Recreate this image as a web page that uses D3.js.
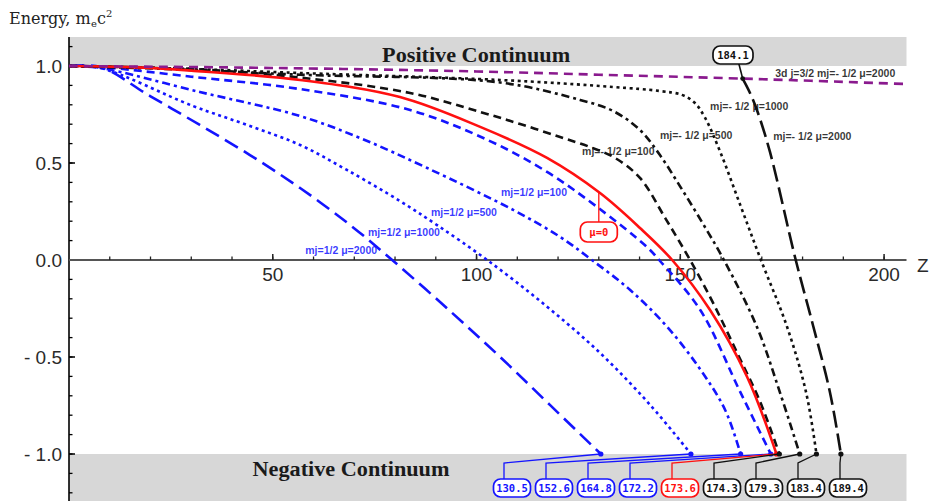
<!DOCTYPE html>
<html>
<head>
<meta charset="utf-8">
<script src="https://cdn.jsdelivr.net/npm/d3@7"></script>
<style>
  body { margin: 0; background: #fff; }
  svg { display: block; }
</style>
</head>
<body>
<svg id="chart" width="932" height="501"></svg>
<script>
// Bound-state energy E (units of m_e c^2) versus nuclear charge Z.
// Each series is a list of [Z, E] pairs; the last point of the diving
// levels (E = -1) is taken from criticalZ below.

const majorZTicks = [50, 100, 150, 200];
const majorETicks = [1, 0.5, 0, -0.5, -1];
const majorETickLabels = ["1.0", "0.5", "0.0", "- 0.5", "- 1.0"];

// Z where each level reaches the negative continuum (same order as divingSeries)
const criticalZ = [130.5, 152.6, 164.8, 172.2, 173.6, 174.3, 179.3, 183.4, 189.4];
const criticalLabels = ["130.5", "152.6", "164.8", "172.2", "173.6", "174.3", "179.3", "183.4", "189.4"];

const blueMu2000 = [[0,1],[7.6,0.995],[19.9,0.845],[32.1,0.696],[44.4,0.541],[56.7,0.371],[69.0,0.18],[79.3,0],[93.5,-0.263],[105.8,-0.5],[118.0,-0.747]];
const blueMu1000 = [[0,1],[7.6,0.99],[30.4,0.794],[43.7,0.696],[56.7,0.593],[68.2,0.464],[81.2,0.304],[90.3,0.18],[102.6,0],[116.8,-0.232],[130.3,-0.479],[142.6,-0.747]];
const blueMu500  = [[0,1],[7.6,0.99],[32.1,0.866],[56.7,0.742],[71.4,0.629],[87.9,0.474],[109.0,0.258],[120.5,0.119],[128.3,0],[137.7,-0.155],[146.8,-0.345],[155.0,-0.567],[161.0,-0.773]];
const blueMu100  = [[0,1],[7.6,0.995],[30,0.945],[56.7,0.881],[83.7,0.773],[103.3,0.613],[117.3,0.454],[129.6,0.273],[141.8,0.067],[144.8,0],[154.9,-0.258],[164.7,-0.68]];
const redMu0     = [[0,1],[15,0.994],[30,0.976],[56.7,0.928],[81.2,0.84],[100.9,0.686],[117.3,0.526],[130.3,0.345],[140.1,0.165],[148.0,0],[157.3,-0.258],[166.4,-0.603]];
const blackMu100 = [[0,1],[30,0.985],[56.7,0.94],[83.7,0.861],[100.9,0.763],[110.7,0.701],[120.5,0.634],[127.9,0.582],[134.0,0.526],[140.1,0.423],[146.3,0.216],[152.4,0],[158.3,-0.232],[164.2,-0.49],[169.6,-0.732]];
const blackMu500 = [[0,1],[30,0.98],[56.7,0.955],[105.8,0.915],[125.4,0.825],[133.5,0.768],[140.1,0.67],[145.0,0.541],[149.9,0.381],[155.3,0.196],[160.7,0],[168.8,-0.345],[174.5,-0.686]];
const blackMu1000 = [[0,1],[30,0.985],[56.7,0.964],[105.8,0.928],[133.5,0.892],[145.0,0.871],[150.4,0.851],[153.6,0.809],[156.1,0.732],[159.8,0.557],[164.7,0.284],[169.6,0.01],[176.2,-0.345],[180.9,-0.686]];
// this level is traced from where it leaves the 3d level
const blackMu2000 = [[165.3,0.935],[167.1,0.861],[168.8,0.773],[172.0,0.557],[178.2,0.01],[182.6,-0.34],[186.7,-0.68]];
const purple3d   = [[0,1],[50,0.99],[100,0.972],[130,0.955],[165.3,0.935],[205.5,0.907]];

// ---- layout -------------------------------------------------------------
const svg = d3.select("#chart");
const W = 932, H = 501;
const x = d3.scaleLinear().domain([0, 205.5]).range([69, 906.5]);
const y = d3.scaleLinear().domain([-1, 1]).range([454, 66]);
const eTop = y.invert(37), eBottom = y.invert(H);

const BLUE = "#1414ff", RED = "#ff1010", BLACK = "#111", PURPLE = "#8a1a8e", GREY = "#d7d7d7";

// continuum bands
svg.append("rect").attr("x", x(0)).attr("y", y(eTop))
  .attr("width", x(205.5) - x(0)).attr("height", y(1) - y(eTop)).attr("fill", GREY);
svg.append("rect").attr("x", x(0)).attr("y", y(-1))
  .attr("width", x(205.5) - x(0)).attr("height", y(eBottom) - y(-1)).attr("fill", GREY);

svg.append("text").attr("x", x(99.9)).attr("y", y(1.057)).attr("dy", "0.35em")
  .attr("text-anchor", "middle").attr("font-family", "'Liberation Serif', serif")
  .attr("font-weight", "bold").attr("font-size", 20).attr("fill", "#1a1a1a")
  .attr("textLength", 188).attr("lengthAdjust", "spacingAndGlyphs")
  .text("Positive Continuum");
svg.append("text").attr("x", x(69.2)).attr("y", y(-1.077)).attr("dy", "0.35em")
  .attr("text-anchor", "middle").attr("font-family", "'Liberation Serif', serif")
  .attr("font-weight", "bold").attr("font-size", 20).attr("fill", "#1a1a1a")
  .attr("textLength", 197).attr("lengthAdjust", "spacingAndGlyphs")
  .text("Negative Continuum");

// ---- axes ---------------------------------------------------------------
const axisG = svg.append("g");
// E axis
axisG.append("line").attr("x1", x(0)).attr("x2", x(0)).attr("y1", y(eTop)).attr("y2", H)
  .attr("stroke", "#000").attr("stroke-width", 1.6);
const minorE = d3.range(-12, 12).map(d => d / 10).filter(v => v >= eBottom && v <= eTop);
axisG.selectAll(".eMinor").data(minorE).join("line")
  .attr("x1", x(0)).attr("x2", x(0) + 3.5).attr("y1", d => y(d)).attr("y2", d => y(d))
  .attr("stroke", "#000").attr("stroke-width", 1.3);
axisG.selectAll(".eMajor").data(majorETicks).join("line")
  .attr("x1", x(0)).attr("x2", x(0) + 6).attr("y1", d => y(d)).attr("y2", d => y(d))
  .attr("stroke", "#000").attr("stroke-width", 1.5);
axisG.selectAll(".eLab").data(majorETicks).join("text")
  .attr("x", x(0) - 7).attr("y", d => y(d)).attr("dy", "0.36em").attr("text-anchor", "end")
  .attr("font-family", "'Liberation Sans', Arial, sans-serif").attr("font-size", 19).attr("fill", "#2a2a2a")
  .text((d, i) => majorETickLabels[i]);

// Z axis along E = 0
axisG.append("line").attr("x1", x(0)).attr("x2", x(205.5)).attr("y1", y(0)).attr("y2", y(0))
  .attr("stroke", "#555").attr("stroke-width", 2);
const minorZ = d3.range(10, 206, 10);
axisG.selectAll(".zMinor").data(minorZ).join("line")
  .attr("x1", d => x(d)).attr("x2", d => x(d)).attr("y1", y(0)).attr("y2", y(0) - 3.5)
  .attr("stroke", "#222").attr("stroke-width", 1.3);
axisG.selectAll(".zMajor").data(majorZTicks).join("line")
  .attr("x1", d => x(d)).attr("x2", d => x(d)).attr("y1", y(0)).attr("y2", y(0) - 6)
  .attr("stroke", "#222").attr("stroke-width", 1.5);
axisG.selectAll(".zLab").data(majorZTicks).join("text")
  .attr("x", d => x(d)).attr("y", y(0) + 21).attr("text-anchor", "middle")
  .attr("font-family", "'Liberation Sans', Arial, sans-serif").attr("font-size", 19).attr("fill", "#2a2a2a")
  .text(d => d);
axisG.append("text").attr("x", 917).attr("y", y(0) + 12)
  .attr("font-family", "'Liberation Sans', Arial, sans-serif").attr("font-size", 19).attr("fill", "#2a2a2a")
  .text("Z");

// E axis title: Energy, m_e c^2
const title = svg.append("text").attr("x", 9).attr("y", 24)
  .attr("font-family", "'DejaVu Serif', serif").attr("font-size", 16).attr("fill", "#222");
title.append("tspan").text("Energy, m");
title.append("tspan").attr("font-size", 10).attr("dy", 3).attr("dx", 0.5).text("e");
title.append("tspan").attr("dy", -3).text("c");
title.append("tspan").attr("font-size", 10).attr("dy", -7).text("2");

// ---- curves ---------------------------------------------------------------
const divingSeries = [blueMu2000, blueMu1000, blueMu500, blueMu100, redMu0, blackMu100, blackMu500, blackMu1000, blackMu2000];
const divingStyle = [
  { color: BLUE,  dash: "15,7" },
  { color: BLUE,  dash: "3,3.6" },
  { color: BLUE,  dash: "8,4,3,4" },
  { color: BLUE,  dash: "8,5" },
  { color: RED,   dash: null },
  { color: BLACK, dash: "8,5" },
  { color: BLACK, dash: "8,4,3,4" },
  { color: BLACK, dash: "3,3.6" },
  { color: BLACK, dash: "17,6" }
];

const line = d3.line().x(d => x(d[0])).y(d => y(d[1])).curve(d3.curveCatmullRom.alpha(0.5));
const curveG = svg.append("g").attr("fill", "none").attr("stroke-width", 2.6);

// draw back to front so the red level sits over the blue and black ones
const drawOrder = [0, 1, 2, 3, 8, 7, 6, 5, 4];
drawOrder.forEach(i => {
  const pts = divingSeries[i].concat([[criticalZ[i], -1]]);
  curveG.append("path").attr("d", line(pts))
    .attr("stroke", divingStyle[i].color)
    .attr("stroke-dasharray", divingStyle[i].dash);
});

// the 3d level runs just above the others near E = 1
curveG.append("path").attr("d", line(purple3d))
  .attr("stroke", PURPLE).attr("stroke-dasharray", "9,6");

// ---- curve labels ----------------------------------------------------------
const labFont = "'Liberation Sans', Arial, sans-serif";
const curveLabels = [
  { text: "mj=1/2 μ=100",  z: 122.2, e: 0.351, anchor: "end",   color: BLUE },
  { text: "mj=1/2 μ=500",  z: 105.0, e: 0.247, anchor: "end",   color: BLUE },
  { text: "mj=1/2 μ=1000", z: 91.0,  e: 0.144, anchor: "end",   color: BLUE },
  { text: "mj=1/2 μ=2000", z: 75.6,  e: 0.052, anchor: "end",   color: BLUE },
  { text: "mj=- 1/2 μ=100",  z: 125.9, e: 0.562, anchor: "start", color: BLACK },
  { text: "mj=- 1/2 μ=500",  z: 145.0, e: 0.644, anchor: "start", color: BLACK },
  { text: "mj=- 1/2 μ=1000", z: 157.3, e: 0.794, anchor: "start", color: BLACK },
  { text: "mj=- 1/2 μ=2000", z: 172.8, e: 0.639, anchor: "start", color: BLACK },
  { text: "3d j=3/2 mj=- 1/2 μ=2000", z: 173.3, e: 0.964, anchor: "start", color: BLACK }
];
svg.append("g").selectAll("text").data(curveLabels).join("text")
  .attr("x", d => x(d.z)).attr("y", d => y(d.e)).attr("dy", "0.35em")
  .attr("text-anchor", d => d.anchor)
  .attr("font-family", labFont).attr("font-weight", "bold").attr("font-size", 10.5)
  .attr("fill", d => d.color).attr("fill-opacity", 0.85)
  .text(d => d.text);

// ---- callouts --------------------------------------------------------------
const callG = svg.append("g");
function box(cx, cy, w, h, color, label) {
  callG.append("rect").attr("x", cx - w / 2).attr("y", cy - h / 2).attr("width", w).attr("height", h)
    .attr("rx", 7).attr("fill", "#fff").attr("stroke", color).attr("stroke-width", 1.7);
  callG.append("text").attr("x", cx).attr("y", cy).attr("dy", "0.36em").attr("text-anchor", "middle")
    .attr("font-family", "'DejaVu Sans Mono', monospace").attr("font-weight", "bold").attr("font-size", 10.5)
    .attr("fill", color).text(label);
}

// critical-Z row along the bottom
const rowY = 488, rowStart = 512, rowStep = 42, stubTop = 463;
criticalZ.forEach((zc, i) => {
  const color = divingStyle[i].color;
  const cx = rowStart + i * rowStep;
  const sx = cx - 8;
  callG.append("polyline")
    .attr("points", `${sx},${rowY - 9} ${sx},${stubTop} ${x(zc)},${y(-1)}`)
    .attr("fill", "none").attr("stroke", color).attr("stroke-width", 1.3);
  callG.append("circle").attr("cx", x(zc)).attr("cy", y(-1)).attr("r", 2.6).attr("fill", color);
  box(cx, rowY, 37, 18, color, criticalLabels[i]);
});

// μ=0 callout on the red level
const muZeroZ = 130;
const muZeroE = d3.scaleLinear().domain(redMu0.map(d => d[0])).range(redMu0.map(d => d[1]))(muZeroZ);
callG.append("line").attr("x1", x(muZeroZ)).attr("x2", x(muZeroZ))
  .attr("y1", y(muZeroE)).attr("y2", 222).attr("stroke", RED).attr("stroke-width", 1.3);
box(x(muZeroZ), 232, 37, 20, RED, "μ=0");

// 184.1 callout at the top, pointing at the start of the μ=2000 level
const topZ = blackMu2000[0][0], topE = blackMu2000[0][1];
callG.append("line").attr("x1", x(topZ) - 4).attr("x2", x(topZ))
  .attr("y1", 63).attr("y2", y(topE)).attr("stroke", BLACK).attr("stroke-width", 1.6);
callG.append("circle").attr("cx", x(topZ)).attr("cy", y(topE)).attr("r", 2.4).attr("fill", BLACK);
box(733, 55, 40, 18, BLACK, "184.1");
</script>
</body>
</html>
